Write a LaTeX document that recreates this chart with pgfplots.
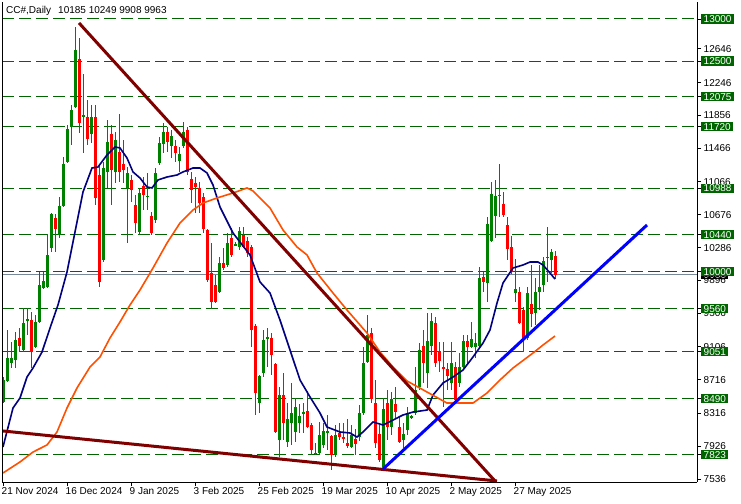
\documentclass[border=0pt]{standalone}
\usepackage{fontspec}
\setmainfont{Liberation Sans}
\usepackage{pgfplots}
\pgfplotsset{compat=1.18}
\usepackage{pgfplotstable}
\usetikzlibrary{calc}
\definecolor{cgreen}{RGB}{0,128,0}
\definecolor{cred}{RGB}{255,0,0}
\definecolor{lvl}{RGB}{0,100,0}
\definecolor{maroonc}{RGB}{128,0,0}
\definecolor{navyc}{RGB}{0,0,128}
\definecolor{orangec}{RGB}{255,80,0}
\definecolor{bluec}{RGB}{0,0,255}
\definecolor{closec}{RGB}{119,136,153}

\pgfplotstableread{
i O H L C
0 8450 8747 8438 8712
1 8700 9306 8688 8973
2 8914 9163 8854 8973
3 8949 9282 8854 9187
5 9068 9567 9044 9389
6 9413 9567 9246 9436
8 9104 9484 9092 9401
9 9401 9995 9389 9840
10 9805 9995 9793 9888
11 9816 10446 9805 10197
12 10280 10700 10232 10684
14 10434 10886 10399 10779
15 10779 11361 10767 11278
16 11301 11741 11290 11693
17 11717 11979 11503 11919
18 11955 12905 11943 12632
20 11836 12347 11408 11860
22 11634 11979 11527 11836
25 10137 11301 10113 11230
26 11183 11800 10993 11539
28 11183 11658 11052 11563
31 10993 11242 10339 11171
34 10470 10993 10434 10933
36 10886 11171 10731 10898
38 10612 11230 10577 11171
39 11290 11598 11266 11527
40 11515 11765 11408 11658
42 11491 11682 11349 11610
44 11313 11480 11183 11396
45 11491 11777 11468 11658
54 9757 10173 9745 10102
56 10078 10458 10054 10339
58 10315 10351 10303 10327
59 10292 10529 10256 10482
64 8438 8771 8320 8759
65 8795 9306 8747 9187
66 9199 9329 8866 9222
69 8000 8628 7800 8533
71 7975 8438 7916 8248
72 8201 8676 7940 8319
73 8094 8498 7975 8391
74 8201 8426 8082 8284
75 8308 8438 8082 8331
78 7834 7963 7823 7844
79 7846 8213 7823 8058
80 7939 8201 7904 8106
81 8082 8296 7880 8106
83 7823 8177 7800 8058
87 7916 8177 7904 8058
89 8034 8415 7987 8320
90 8320 9104 8296 8914
91 8925 9484 8914 9246
95 7678 8498 7666 8367
97 8153 8569 8058 8486
100 8000 8201 7904 8070
101 8118 8391 8058 8320
102 8260 8296 8248 8284
103 8320 8866 8296 8593
104 8628 9151 8593 9068
106 8795 9508 8617 9175
107 9116 9508 9009 9413
112 8676 9163 8593 8914
114 8676 9032 8628 8866
115 8866 9246 8860 9175
117 9104 9401 9092 9199
118 9104 9270 8973 9151
119 9116 10054 9104 9923
121 9864 10648 9638 10565
122 10363 11064 10351 10921
123 10660 11088 10399 10898
124 10898 11278 10648 10909
128 9745 10149 9638 9793
131 9211 9816 9187 9745
133 9507 9923 9365 9757
134 9757 10078 9543 9816
135 9840 10173 9757 10125
136 10161 10529 9876 10173
137 10137 10268 9983 10232
}\greentab

\pgfplotstableread{
i O H L C
4 9211 9329 9044 9116
7 9424 9519 8854 9044
13 10636 10684 10232 10505
19 12525 12775 11646 11765
21 11836 12038 11503 11575
23 11836 11979 10791 10874
24 11147 11266 9816 9876
27 11634 11741 10791 11206
29 11420 11872 11064 11183
30 11278 11563 11052 11206
32 11088 11147 10826 10969
33 10791 10909 10458 10577
35 11016 11123 10731 10909
37 10660 10707 10434 10458
41 11658 11717 11420 11539
43 11491 11563 11301 11408
46 11682 11717 11147 11183
47 11099 11183 10814 10969
48 11052 11123 10696 11004
49 10993 11064 10696 10814
50 10886 10933 10458 10505
51 10494 10510 9876 9900
52 9983 10339 9555 9638
53 9840 9959 9626 9638
55 10102 10280 10018 10042
57 10399 10517 10173 10197
60 10434 10529 10280 10292
61 10363 10411 10173 10220
62 10292 10320 9104 9306
63 9353 9380 8296 8557
67 9211 9270 8771 9009
68 8902 8914 8082 8094
70 8533 8795 8000 8201
76 8343 8581 8141 8153
77 8177 8201 7823 7880
82 8046 8058 7642 7821
84 8082 8201 8000 8034
85 8034 8201 7963 8010
86 7963 8248 7904 7927
88 8010 8129 7821 7951
92 9270 9329 8438 8486
93 8438 8712 7904 7963
94 8070 8177 7738 7761
96 8438 8593 8000 8153
98 8426 8628 8248 8331
99 8153 8272 7963 7975
105 9116 9306 8676 8914
108 9389 9460 8866 8914
109 9056 9163 8807 8937
110 8866 9163 8391 8842
111 8842 8914 8593 8759
113 8866 8925 8438 8474
116 9175 9246 8914 9104
120 9935 9995 9757 9876
125 10802 10945 10648 10672
126 10553 10648 10137 10268
127 10292 10422 9971 9995
129 9757 9816 9380 9389
130 9543 9579 9044 9187
132 9614 10078 9341 9495
138 10185 10249 9908 9963
}\redtab

\pgfplotstableread{
i p
0 7916
2.5 8379
4.25 8498
6 8747
7.5 8854
9.75 9044
11.75 9329
13.75 9603
16 9995
18 10470
20 10945
22.25 11230
23.75 11242
26 11385
28 11480
29.25 11468
31 11349
32.5 11183
34.25 11111
36 11004
37.25 10993
38.75 11088
41 11123
43.5 11147
45 11183
47.5 11230
49.25 11230
51 11171
52.5 11028
54.25 10767
57.5 10458
61.75 10197
64.25 9876
66.75 9745
69.25 9424
71.75 9068
74.25 8712
76.75 8510
79.25 8320
81 8153
84.25 8094
86.75 8082
88.5 8034
90 8094
92.5 8213
95 8177
97.5 8236
100 8296
102.5 8331
106 8355
107.5 8533
110 8676
112.5 8747
115 8830
117.5 8985
120 9151
121.75 9306
123.5 9626
125 9864
127.5 10042
130 10078
131.75 10113
133.75 10113
135 10078
136.75 9983
138 9911
}\navytab

\pgfplotstableread{
i p
0 7607
4.25 7738
7.5 7856
11 7940
13.5 8094
16 8379
18.5 8617
21.75 8866
24.25 8985
26.75 9211
29.25 9401
31.75 9603
34.25 9781
37.5 10042
41 10339
44.25 10577
47.5 10731
50 10814
53.5 10874
57.5 10933
61 10993
62.5 10957
66.75 10755
70 10494
73.5 10292
76 10197
78.5 9983
82.5 9745
86 9543
91 9270
94.25 9044
97.5 8866
101 8700
106 8569
111 8438
117.5 8438
121 8557
124.25 8712
127.5 8854
132.5 9032
135 9127
138 9234
}\orangetab

\begin{document}
\begin{tikzpicture}
\begin{axis}[
  set layers=standard,
  scale only axis, width=695pt, height=480pt,
  xmin=-0.25, xmax=173.5, ymin=7500, ymax=13202,
  axis x line*=bottom, axis y line*=right,
  axis line style={line width=1pt, black},
  clip=false,
  tick align=outside, major tick length=4pt,
  tick style={black, line width=0.8pt},
  xtick={0,16,32,48,64,80,96,112,128},
  xticklabels={21 Nov 2024,16 Dec 2024,9 Jan 2025,3 Feb 2025,25 Feb 2025,19 Mar 2025,10 Apr 2025,2 May 2025,27 May 2025},
  xticklabel style={anchor=north west, inner sep=0pt, xshift=-1.5pt, yshift=-1pt, font=\fontsize{10}{10}\selectfont},
  ytick={7536,7926,8316,8716,9106,9506,9896,10286,10676,11066,11466,11856,12246,12646},
  extra y ticks={7823,8490,9051,9560,10000,10440,10988,11720,12075,12500,13000},
  scaled y ticks=false,
  /pgf/number format/fixed,
  /pgf/number format/1000 sep={},
  /pgf/number format/precision=0,
  /pgf/number format/assume math mode=true,
  yticklabel style={anchor=west, inner xsep=2.5pt, inner ysep=1pt, text height=7.2pt, text depth=0pt, font=\fontsize{10}{10}\selectfont},
  extra y tick style={yticklabel style={fill=lvl, text=white}},
]
% level lines
\pgfplotsinvokeforeach{7823,8490,9051,9560,10000,10440,10988,11720,12075,12500,13000}{
  \addplot[lvl, line width=1pt, dash pattern=on 12pt off 5pt, forget plot] coordinates {(-0.25,#1) (173.5,#1)};
}
% close line
\addplot[closec, line width=1pt, forget plot] coordinates {(-0.25,9963) (173.5,9963)};
% wicks
\addplot[draw=none, mark=none, forget plot, error bars/.cd, y dir=both, y explicit, error mark=none, error bar style={draw=cgreen, line width=1pt}]
  table[x=i, y expr={(\thisrow{H}+\thisrow{L})/2}, y error expr={(\thisrow{H}-\thisrow{L})/2}] \greentab;
\addplot[draw=none, mark=none, forget plot, error bars/.cd, y dir=both, y explicit, error mark=none, error bar style={draw=cred, line width=1pt}]
  table[x=i, y expr={(\thisrow{H}+\thisrow{L})/2}, y error expr={(\thisrow{H}-\thisrow{L})/2}] \redtab;
% bodies
\addplot[draw=none, mark=none, forget plot, error bars/.cd, y dir=both, y explicit, error mark=none, error bar style={draw=cgreen, line width=3pt}]
  table[x=i, y expr={(\thisrow{O}+\thisrow{C})/2}, y error expr={max(abs(\thisrow{O}-\thisrow{C})/2,6)}] \greentab;
\addplot[draw=none, mark=none, forget plot, error bars/.cd, y dir=both, y explicit, error mark=none, error bar style={draw=cred, line width=3pt}]
  table[x=i, y expr={(\thisrow{O}+\thisrow{C})/2}, y error expr={max(abs(\thisrow{O}-\thisrow{C})/2,6)}] \redtab;
% moving averages
\addplot[navyc, line width=1.6pt, mark=none] table[x=i, y=p] \navytab;
\addplot[orangec, line width=1.6pt, mark=none] table[x=i, y=p] \orangetab;
% trend lines
\addplot[maroonc, line width=3pt, mark=none] coordinates {(19,12953) (123,7512)};
\addplot[maroonc, line width=3pt, mark=none] coordinates {(0,8106) (123.5,7512)};
\addplot[bluec, line width=3pt, mark=none] coordinates {(95,7654) (161,10553)};
% left border
\draw[black, line width=1pt] (rel axis cs:0,0) -- (rel axis cs:0,1);
\begin{pgfonlayer}{axis background}
\node[fill=black, text=white, anchor=west, inner xsep=2.5pt, inner ysep=1pt, text height=7.2pt, text depth=0pt, font=\fontsize{10}{10}\selectfont] at (axis cs:173.5,9963) [xshift=4pt] {9963};
\end{pgfonlayer}
\node[anchor=north west, inner sep=0pt, font=\fontsize{10}{10}\selectfont] at (rel axis cs:0,1) [xshift=4pt, yshift=-4pt] {CC\#,Daily\hspace{7pt}10185 10249 9908 9963};
\coordinate (A) at (rel axis cs:0,0);
\coordinate (B) at (rel axis cs:1,1);
\end{axis}
\pgfresetboundingbox
\path[use as bounding box] ($(A)+(-2pt,-21pt)$) rectangle ($(B)+(44pt,2pt)$);
\end{tikzpicture}
\end{document}
